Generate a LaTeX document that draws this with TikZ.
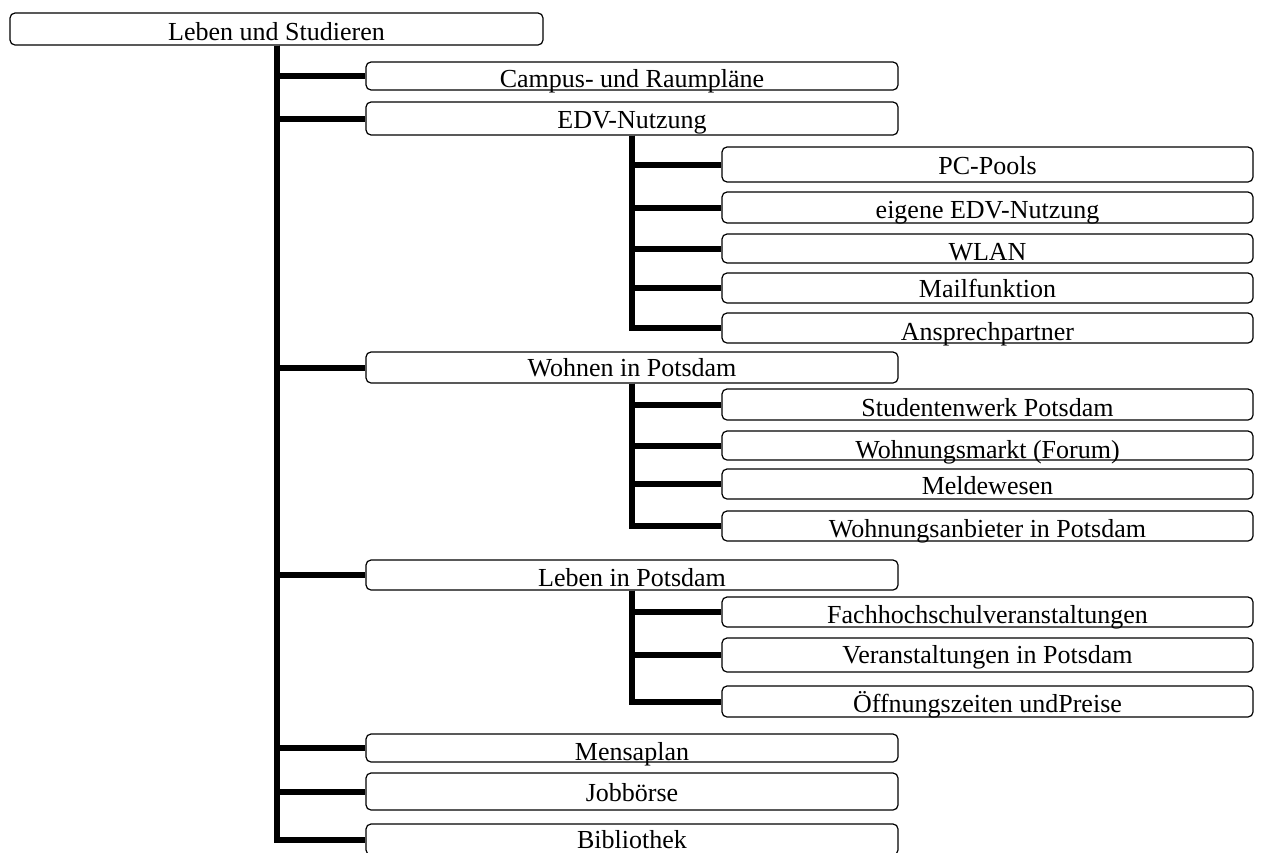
\documentclass[tikz,border=0pt]{standalone}
\usepackage{fontspec}
\setmainfont{Liberation Serif}
\usepackage{tikz}

\begin{document}
\begin{tikzpicture}[x=1pt,y=1pt,
  kasten/.style={draw,rounded corners=5pt,line width=1.2pt,inner sep=0pt,
    anchor=base,font=\fontsize{26}{30}\selectfont},
  wurzel/.style={kasten,minimum width=533pt},
  ebeneA/.style={kasten,minimum width=532pt},
  ebeneB/.style={kasten,minimum width=531pt},
  verb/.style={line width=6pt}]
\useasboundingbox (0,0) rectangle (1263,-852);

\node[wurzel, text height=27pt, text depth=5pt] (root) at (276.5,-40) {Leben und Studieren};

  \node[ebeneA, text height=25pt, text depth=3pt] (campus) at (632,-87)  {Campus- und Raumpläne};
  \node[ebeneA, text height=26pt, text depth=7pt] (edv)    at (632,-128) {EDV-Nutzung};
  \node[ebeneA, text height=24pt, text depth=7pt] (wohnen) at (632,-376) {Wohnen in Potsdam};
  \node[ebeneA, text height=26pt, text depth=4pt] (leben)  at (632,-586) {Leben in Potsdam};
  \node[ebeneA, text height=26pt, text depth=2pt] (mensa)  at (632,-760) {Mensaplan};
  \node[ebeneA, text height=28pt, text depth=9pt] (jobs)   at (632,-801) {Jobbörse};
  \node[ebeneA, text height=24pt, text depth=7pt] (biblio) at (632,-848) {Bibliothek};

  \node[ebeneB, text height=27pt, text depth=8pt] (pcpool) at (987.5,-174) {PC-Pools};
  \node[ebeneB, text height=26pt, text depth=5pt] (eigen)  at (987.5,-218) {eigene EDV-Nutzung};
  \node[ebeneB, text height=26pt, text depth=3pt] (wlan)   at (987.5,-260) {WLAN};
  \node[ebeneB, text height=24pt, text depth=6pt] (mail)   at (987.5,-297) {Mailfunktion};
  \node[ebeneB, text height=27pt, text depth=3pt] (ansp)   at (987.5,-340) {Ansprechpartner};

  \node[ebeneB, text height=27pt, text depth=4pt] (stw)    at (987.5,-416) {Studentenwerk Potsdam};
  \node[ebeneB, text height=27pt, text depth=2pt] (markt)  at (987.5,-458) {Wohnungsmarkt (Forum)};
  \node[ebeneB, text height=25pt, text depth=5pt] (melde)  at (987.5,-494) {Meldewesen};
  \node[ebeneB, text height=26pt, text depth=4pt] (anbiet) at (987.5,-537) {Wohnungsanbieter in Potsdam};

  \node[ebeneB, text height=26pt, text depth=4pt] (fhver)  at (987.5,-623) {Fachhochschulveranstaltungen};
  \node[ebeneB, text height=25pt, text depth=9pt] (pdver)  at (987.5,-663) {Veranstaltungen in Potsdam};
  \node[ebeneB, text height=26pt, text depth=5pt] (zeiten) at (987.5,-712) {Öffnungszeiten undPreise};

  \foreach \k in {campus,edv,wohnen,leben,mensa,jobs,biblio}
    \draw[verb] (root.south) |- (\k.west);
  \foreach \k in {pcpool,eigen,wlan,mail,ansp}
    \draw[verb] (edv.south) |- (\k.west);
  \foreach \k in {stw,markt,melde,anbiet}
    \draw[verb] (wohnen.south) |- (\k.west);
  \foreach \k in {fhver,pdver,zeiten}
    \draw[verb] (leben.south) |- (\k.west);
\end{tikzpicture}
\end{document}
